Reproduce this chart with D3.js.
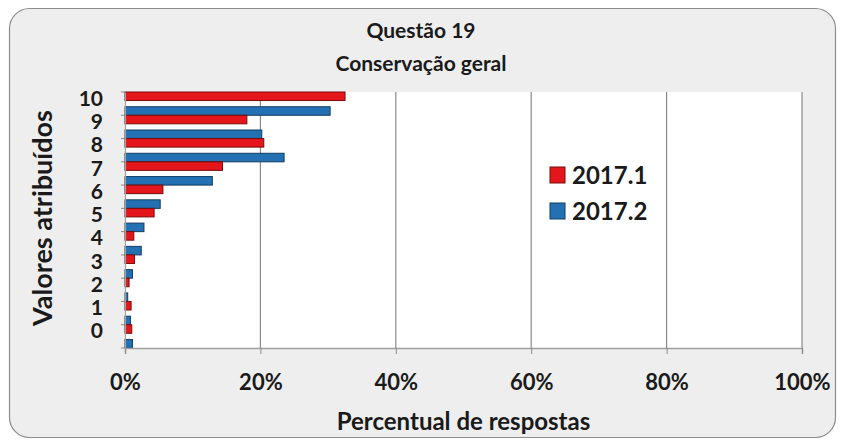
<!DOCTYPE html>
<html>
<head>
<meta charset="utf-8">
<script src="https://cdn.jsdelivr.net/npm/d3@7"></script>
<style>
  body { margin: 0; background: #fff; }
  text { font-family: Lato, "Open Sans", sans-serif; font-weight: bold; fill: #1a1a1a; }
</style>
</head>
<body>
<div class="chart"></div>
<script>
'use strict';

var categories = ['10', '9', '8', '7', '6', '5', '4', '3', '2', '1', '0'];
var seriesNames = ['2017.1', '2017.2'];
// percent of responses, same order as categories
var s2017_1 = [32.5, 18.0, 20.5, 14.4, 5.6, 4.3, 1.3, 1.4, 0.6, 0.9, 1.0];
var s2017_2 = [30.3, 20.2, 23.5, 12.9, 5.2, 2.8, 2.4, 1.1, 0.4, 0.8, 1.1];
var xTicks = [0, 20, 40, 60, 80, 100];

var colors = {'2017.1': '#e5161b', '2017.2': '#2370b3'};
var strokes = {'2017.1': '#7a0a0a', '2017.2': '#123e63'};

var W = 842, H = 441;
var margin = {top: 92, right: 40, bottom: 93, left: 125},
  width = 802 - margin.left,
  height = 348 - margin.top;

var data = categories.map(function(c, i) {
  return {cat: c, values: [
    {key: '2017.1', value: s2017_1[i]},
    {key: '2017.2', value: s2017_2[i]}
  ]};
});

var svg = d3.select('.chart').append('svg')
  .attr('width', W)
  .attr('height', H);

// frame
svg.append('rect')
  .attr('x', 9.5).attr('y', 8.5)
  .attr('width', 826).attr('height', 429)
  .attr('rx', 20).attr('ry', 20)
  .attr('fill', '#eeeeee')
  .attr('stroke', '#8c8c8c')
  .attr('stroke-width', 1.2);

var g = svg.append('g')
  .attr('transform', 'translate(' + margin.left + ',' + margin.top + ')');

var x = d3.scaleLinear().domain([0, 100]).range([0, width]);
var y = d3.scaleBand().domain(categories).range([0, height]).padding(0);
var y1 = d3.scaleBand().domain(seriesNames).range([0, y.bandwidth()])
  .paddingInner(0.42).paddingOuter(0);

g.append('rect')
  .attr('width', width).attr('height', height)
  .attr('fill', '#fff');

// gridlines
g.selectAll('.grid')
  .data(xTicks.slice(1))
  .enter().append('line')
  .attr('x1', function(d) { return x(d); })
  .attr('x2', function(d) { return x(d); })
  .attr('y1', 0).attr('y2', height)
  .attr('stroke', '#8a8a8a')
  .attr('stroke-width', 1.2);

// bars
var groups = g.selectAll('.cat')
  .data(data)
  .enter().append('g')
  .attr('transform', function(d) { return 'translate(0,' + y(d.cat) + ')'; });

groups.selectAll('rect')
  .data(function(d) { return d.values; })
  .enter().append('rect')
  .attr('x', x(0))
  .attr('y', function(d) { return y1(d.key); })
  .attr('width', function(d) { return x(d.value) - x(0); })
  .attr('height', y1.bandwidth())
  .attr('fill', function(d) { return colors[d.key]; })
  .attr('stroke', function(d) { return strokes[d.key]; })
  .attr('stroke-width', 1);

// x axis
var xAxis = g.append('g')
  .attr('transform', 'translate(0,' + height + ')')
  .call(d3.axisBottom(x).tickValues(xTicks).tickSize(6).tickPadding(20)
    .tickFormat(function(d) { return d + '%'; }));
xAxis.select('.domain').attr('stroke', '#a0a0a0').attr('stroke-width', 1.5);
xAxis.selectAll('.tick line').attr('stroke', '#8a8a8a');
xAxis.selectAll('.tick text').style('font-size', '22px').attr('fill', '#1a1a1a');

// y axis
var yAxis = g.append('g')
  .call(d3.axisLeft(y).tickSize(0).tickPadding(22));
yAxis.select('.domain').attr('stroke', '#a0a0a0').attr('stroke-width', 1.2);
yAxis.selectAll('.tick text').style('font-size', '21px').attr('dy', '0.1em').attr('fill', '#1a1a1a');
g.selectAll('.ytick')
  .data(categories.concat(['end']))
  .enter().append('line')
  .attr('x1', -4).attr('x2', 0)
  .attr('y1', function(d, i) { return i * y.step(); })
  .attr('y2', function(d, i) { return i * y.step(); })
  .attr('stroke', '#8a8a8a');

// titles
svg.append('text')
  .attr('x', 421).attr('y', 38)
  .attr('text-anchor', 'middle')
  .style('font-size', '21px')
  .text('Questão 19');
svg.append('text')
  .attr('x', 421).attr('y', 71)
  .attr('text-anchor', 'middle')
  .style('font-size', '21px')
  .text('Conservação geral');

svg.append('text')
  .attr('x', margin.left + width / 2).attr('y', 430)
  .attr('text-anchor', 'middle')
  .style('font-size', '24px')
  .text('Percentual de respostas');

svg.append('text')
  .attr('transform', 'translate(52,' + 218 + ') rotate(-90)')
  .attr('text-anchor', 'middle')
  .style('font-size', '27px')
  .text('Valores atribuídos');

// legend
var legend = svg.append('g')
  .attr('transform', 'translate(550,167)');
var items = legend.selectAll('g')
  .data(seriesNames)
  .enter().append('g')
  .attr('transform', function(d, i) { return 'translate(0,' + (i * 36) + ')'; });
items.append('rect')
  .attr('width', 15).attr('height', 16)
  .attr('fill', function(d) { return colors[d]; })
  .attr('stroke', function(d) { return strokes[d]; });
items.append('text')
  .attr('x', 22).attr('y', 17)
  .style('font-size', '24px')
  .text(function(d) { return d; });
</script>
</body>
</html>
